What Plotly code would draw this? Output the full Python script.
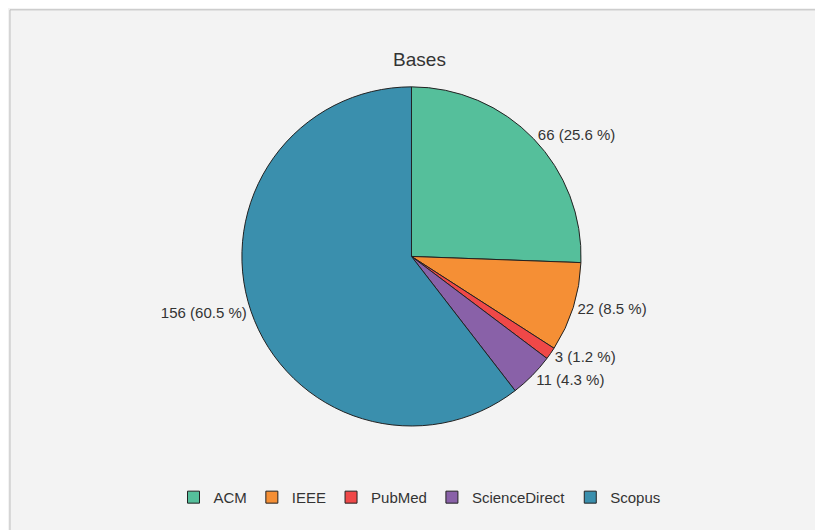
import plotly.graph_objects as go

bases = ["ACM", "IEEE", "PubMed", "ScienceDirect", "Scopus"]
counts = [66, 22, 3, 11, 156]
colors = ["#55bf9b", "#f58f35", "#ef4848", "#8961a8", "#3a8fad"]

total = sum(counts)
labels_txt = [f"{c} ({c / total * 100:.1f} %)" for c in counts]

fig = go.Figure(go.Pie(
    labels=bases,
    values=counts,
    text=labels_txt,
    textinfo="text",
    textposition="outside",
    textfont=dict(size=15, color="#333333"),
    marker=dict(colors=colors, line=dict(color="#222222", width=1)),
    sort=False,
    direction="clockwise",
    rotation=0,
    domain=dict(x=[0.19, 0.79], y=[0.2, 0.865]),
))

fig.update_layout(
    width=823, height=530,
    title=dict(text="Bases", x=0.5, y=0.915, xanchor="center", font=dict(size=19, color="#333333")),
    font=dict(family="Liberation Sans, Arial, sans-serif", color="#333333"),
    paper_bgcolor="#f3f3f3",
    plot_bgcolor="#f3f3f3",
    margin=dict(l=10, r=10, t=10, b=10),
    legend=dict(orientation="h", x=0.5, xanchor="center", y=0.06, yanchor="middle",
                font=dict(size=15, color="#333333")),
    shapes=[dict(type="rect", xref="paper", yref="paper", x0=-0.01, y0=-0.016, x1=1.01, y1=1.016,
                 line=dict(color="#bbbbbb", width=1))],
)

fig.write_html("out.html")
